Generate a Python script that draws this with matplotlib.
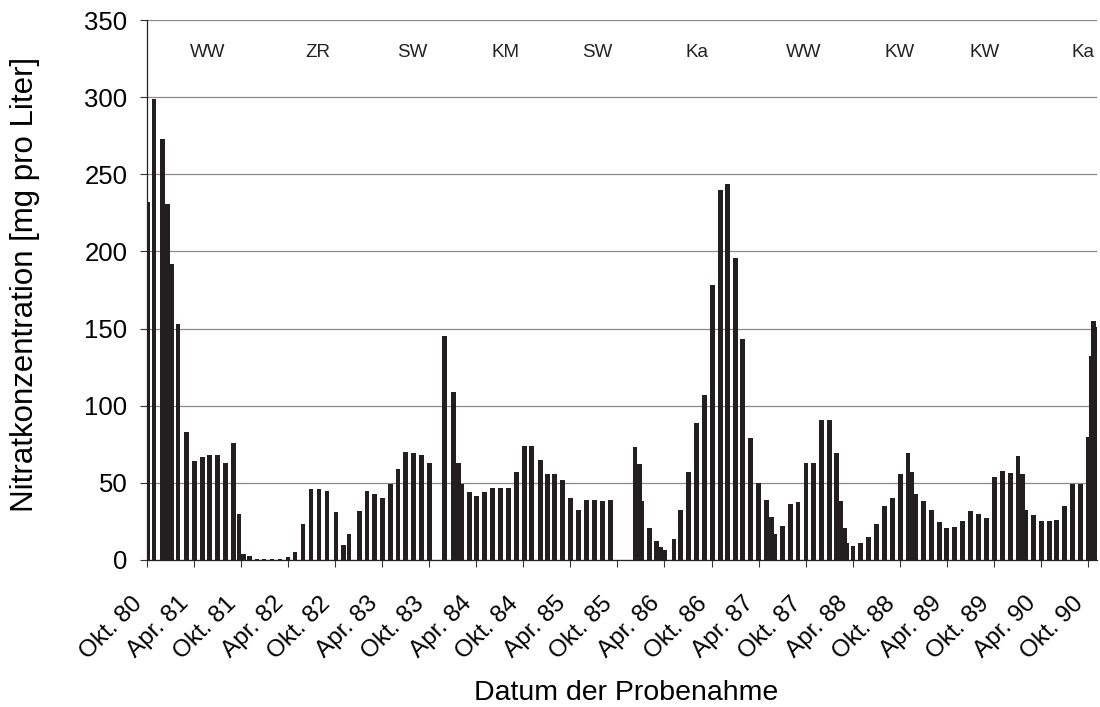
import matplotlib
matplotlib.use("Agg")
import matplotlib.pyplot as plt
import matplotlib.transforms as mtransforms
import numpy as np

# Probenahme: Monate seit Okt. 1980, Nitrat in mg/l
monat = [0.1, 0.93, 2.01, 2.65, 3.22, 3.99, 5.07, 6.05, 7.11, 8.04, 9.06, 10.08, 11.1,
         11.76, 12.34, 13.06, 14.06, 14.95, 15.97, 16.99, 18.0, 18.9, 19.92, 20.94,
         21.96, 22.98, 24.12, 25.1, 25.78, 27.14, 28.07, 29.07, 30.05, 31.04, 32.03,
         33.02, 34.06, 35.06, 36.08, 37.99, 39.06, 39.76, 40.18, 41.1, 42.03, 43.05,
         44.04, 45.06, 46.08, 47.09, 48.11, 49.1, 50.15, 51.1, 52.03, 53.05, 54.07,
         55.09, 56.11, 57.1, 58.12, 59.1, 62.25, 62.8, 63.12, 64.07, 65.03, 65.54,
         66.05, 67.22, 68.09, 69.11, 70.07, 71.06, 72.1, 73.15, 74.02, 75.1, 75.97,
         77.01, 78.0, 79.01, 79.65, 80.03, 81.06, 82.04, 83.03, 84.05, 85.04, 86.0,
         87.01, 87.97, 88.48, 88.9, 89.18, 90.03, 91.0, 91.98, 93.0, 94.02, 95.02,
         96.06, 97.04, 97.49, 98.01, 99.06, 100.01, 101.01, 101.99, 103.01, 104.0,
         105.02, 106.03, 107.0, 108.04, 109.04, 110.06, 111.06, 111.67, 112.06,
         113.01, 114.03, 115.03, 116.03, 117.02, 118.04, 119.06, 120.0, 120.37,
         120.71, 121.1]
nitrat = [232, 299, 273, 231, 192, 153, 83, 64, 67, 68, 68, 63, 76,
          30, 3.7, 2.6, 0.6, 0.6, 0.5, 0.6, 1.7, 5, 23, 46,
          46, 45, 31, 10, 17, 31.5, 45, 43, 40, 49, 59,
          70, 69, 68, 63, 145, 109, 63, 49, 44, 41.5, 44,
          46.5, 46.5, 46.5, 57, 74, 74, 65, 56, 56, 52, 40,
          32.5, 39, 39, 38.5, 39, 73, 62, 38, 20.5, 12, 8.6,
          6.5, 13.6, 32.5, 57, 89, 107, 178, 240, 244, 195.5, 143,
          79, 50, 39, 28, 17, 22, 36.5, 37.5, 63, 63, 90.5,
          91, 69, 38, 20.5, 11, 9, 11, 15, 23, 35, 40,
          56, 69, 57, 43, 38, 32.5, 24.5, 21, 21.5, 25,
          32, 30, 27.5, 54, 57.5, 56.5, 67.5, 56, 32.5,
          29, 25, 25, 26, 35, 49, 49.5, 79.5, 132,
          155, 151]

tick_pos = list(range(0, 121, 6))
tick_labels = []
for i in range(len(tick_pos)):
    jahr = 80 + (i + 1) // 2
    tick_labels.append(("Okt. " if i % 2 == 0 else "Apr. ") + str(jahr))

kultur = ["WW", "ZR", "SW", "KM", "SW", "Ka", "WW", "KW", "KW", "Ka"]
kultur_pos = [7.8, 21.8, 33.8, 45.7, 57.4, 70.1, 83.8, 96.0, 106.8, 119.4]

plt.rcParams['font.family'] = ['Liberation Sans', 'DejaVu Sans']

fig = plt.figure(figsize=(11, 7.07), dpi=100)
ax = fig.add_axes([0.1334, 0.208, 0.8636, 0.7637])

ax.bar(monat, nitrat, width=0.62, color='#231f20', zorder=2)

ax.set_xlim(0, 121.1)
ax.set_ylim(0, 350)
ax.set_yticks(np.arange(0, 351, 50))
ax.yaxis.grid(True, color='#8a8a8a', linewidth=0.9, zorder=0)
ax.set_axisbelow(True)

ax.set_xticks(tick_pos)
ax.set_xticklabels(tick_labels, rotation=45, ha='right', va='center', rotation_mode='anchor')
ax.tick_params(axis='both', direction='out', length=5, width=0.8, color='#333333')
ax.tick_params(axis='x', labelsize=17.5, pad=24)
ax.tick_params(axis='y', labelsize=18.5, pad=9)

# Beschriftungen etwas nach links schieben
versatz = mtransforms.ScaledTranslation(-8 / 100, 0, fig.dpi_scale_trans)
for lab in ax.get_xticklabels():
    lab.set_transform(lab.get_transform() + versatz)

for s in ['top', 'right']:
    ax.spines[s].set_visible(False)
for s in ['left', 'bottom']:
    ax.spines[s].set_color('#222222')
    ax.spines[s].set_linewidth(0.9)

for name, pos in zip(kultur, kultur_pos):
    ax.text(pos, 329, name, ha='center', va='center', fontsize=13.5, color='#222222')

ax.set_ylabel("Nitratkonzentration [mg pro Liter]", fontsize=22.5, va='center')
ax.yaxis.set_label_coords(-0.128, 0.51)
ax.set_xlabel("Datum der Probenahme", fontsize=20.5, va='center')
ax.xaxis.set_label_coords(0.505, -0.246)

fig.savefig("out.png", dpi=100)
